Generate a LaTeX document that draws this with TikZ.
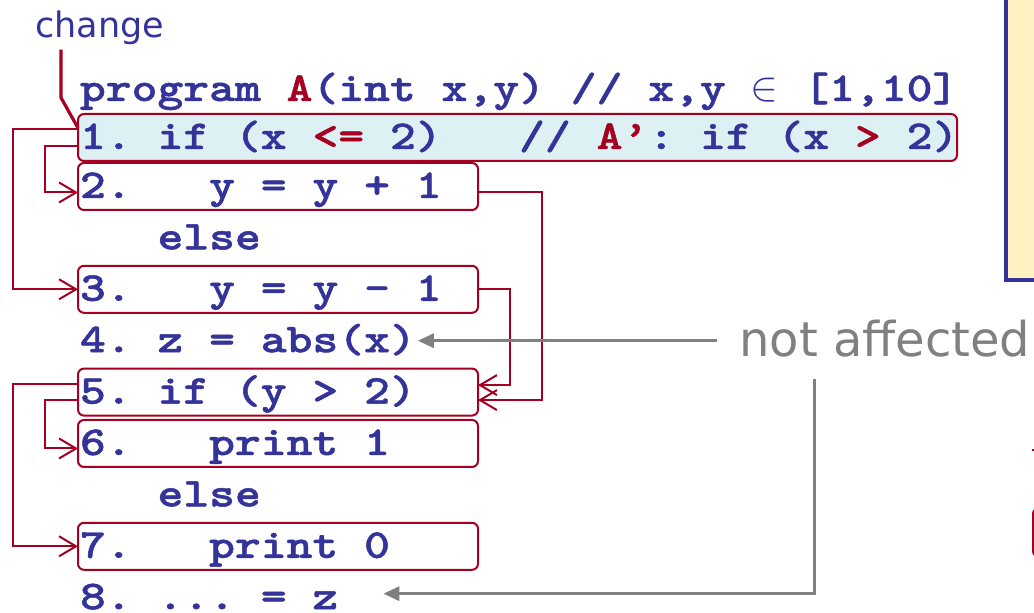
\documentclass[tikz,border=0pt]{standalone}
\usepackage{fontspec}
\usepackage{xcolor}
\usepackage{tikz}
\usetikzlibrary{arrows.meta,positioning}

\newfontfamily\codefont{lmmonolt10-bold.otf}[FakeStretch=1.2,FakeBold=1.2]
\newfontfamily\labelfont{DejaVu Sans}
% fixed-pitch spaces to go with the stretched glyphs
\newcommand\codesize{\codefont\fontsize{20.5pt}{24pt}\selectfont\frenchspacing\spaceskip=12.92pt\relax}

\definecolor{codeblue}{RGB}{51,51,153}
\definecolor{flowred}{RGB}{165,0,33}
\definecolor{hilite}{RGB}{221,240,243}
\definecolor{noteyellow}{RGB}{255,242,194}
\definecolor{fadegray}{RGB}{128,128,128}

\begin{document}
\begin{tikzpicture}[
    node distance=2.2pt,
    code/.style={font=\codesize, text=codeblue, anchor=north west, outer sep=0pt,
      inner xsep=1pt, inner ysep=0pt, text height=17.5pt, text depth=6pt},
    stmt/.style={code, draw=flowred, line width=1pt, rounded corners=3pt, text width=198pt,
      align=flush left, execute at begin node={\spaceskip=12.92pt\relax}},
    changed/.style={stmt, fill=hilite, text width=437.5pt},
    row/.style={below=of #1.south west, anchor=north west},
    flow/.style={draw=flowred, line width=1pt, -{Straight Barb[length=8.5pt,width=10pt]}},
    faded/.style={draw=fadegray, line width=1.5pt, -{Triangle[length=8pt,width=7pt]}},
    tag/.style={font=\labelfont\fontsize{17.5pt}{20pt}\selectfont, text=codeblue, inner sep=0pt, anchor=base west},
    remark/.style={font=\labelfont\fontsize{24pt}{28pt}\selectfont, text=fadegray, inner sep=0pt, anchor=base west}
  ]
  \useasboundingbox (0,0) rectangle (517pt,-306.5pt);
  \clip (0,0) rectangle (517pt,-306.5pt);

  % note box and marks running off the right edge
  \draw[draw=codeblue, fill=noteyellow, line width=2pt] (503pt,5pt) rectangle (530pt,-140.25pt);
  \draw[draw=flowred, line width=1pt] (516pt,-225pt) -- ++(3pt,0);
  \draw[draw=flowred, line width=1pt, rounded corners=3pt] (516.5pt,-254pt) rectangle (540pt,-278.5pt);

  % program listing
  \node[code] (head) at (39pt,-33pt) {program {\color{flowred}A}(int x,y) // x,y \makebox[12.92pt]{$\in$} [1,10]};
  \node[changed, below=0.5pt of head.south west, anchor=north west] (l1)
    {\mbox{1. if (x {\color{flowred}<=} 2)~~~// {\color{flowred}A’}: if (x {\color{flowred}>} 2)}};
  \node[stmt, below=1pt of l1.south west, anchor=north west] (l2) {2.~~~y = y + 1};
  \node[code, row=l2] (else1) {~~~else};
  \node[stmt, row=else1] (l3) {3.~~~y = y - 1};
  \node[code, row=l3] (l4) {4. z = abs(x)};
  \node[stmt, row=l4] (l5) {5. if (y > 2)};
  \node[stmt, row=l5] (l6) {6.~~~print 1};
  \node[code, row=l6] (else2) {~~~else};
  \node[stmt, row=else2] (l7) {7.~~~print 0};
  \node[code, row=l7, text depth=2pt] (l8) {8. ... = z};

  % labels
  \node[tag] (chg) at (17.5pt,-19pt) {change};
  \node[remark] (na) at (369.5pt,-178.5pt) {not affected};

  \draw[draw=flowred, line width=1.6pt] ([xshift=13pt,yshift=-2pt]chg.south west) -- ++(0,-24pt) -- ([yshift=-7pt]l1.north west);

  % control flow
  \draw[flow] ([yshift=4.25pt]l1.west) -- ++(-32.5pt,0) |- (l3.west);
  \draw[flow] ([yshift=-4.25pt]l1.west) -- ++(-16.5pt,0) |- ([yshift=-3pt]l2.west);
  \draw[flow] ([yshift=4pt]l5.west) -- ++(-32.5pt,0) |- (l7.west);
  \draw[flow] ([yshift=-4pt]l5.west) -- ++(-16.5pt,0) |- ([yshift=-2.5pt]l6.west);
  \draw[flow] ([yshift=-3pt]l2.east) -- ++(32pt,0) |- ([yshift=-4pt]l5.east);
  \draw[flow] (l3.east) -- ++(16pt,0) |- ([yshift=3.5pt]l5.east);

  \draw[faded] ([xshift=-11pt]na.west |- l4.east) -- (l4.east);
  \draw[faded] ([xshift=37.5pt,yshift=-10.5pt]na.south west) |- ([xshift=21.5pt]l8.east);
\end{tikzpicture}
\end{document}
